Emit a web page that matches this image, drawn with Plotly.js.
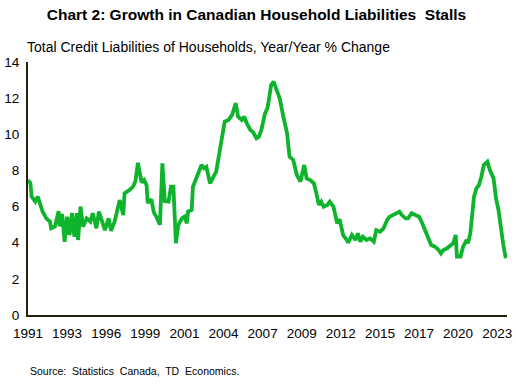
<!DOCTYPE html>
<html>
<head>
<meta charset="utf-8">
<script src="https://cdn.plot.ly/plotly-3.0.1.min.js"></script>
<style>html,body{margin:0;padding:0;background:#fff;}#chart{width:516px;height:386px;}</style>
</head>
<body>
<div id="chart"></div>
<script>
const dates = [
"1991-01","1991-03","1991-04","1991-07","1991-09","1991-11","1992-01","1992-04","1992-07","1992-08","1992-11",
"1993-02","1993-03","1993-05","1993-07","1993-09","1993-11","1994-01","1994-03","1994-05","1994-06","1994-08","1994-10",
"1995-01","1995-04","1995-06","1995-09","1995-11","1996-01","1996-04","1996-07","1996-09","1996-12",
"1997-04","1997-07","1997-08","1997-12","1998-03","1998-05","1998-07","1998-10","1998-12",
"1999-02","1999-03","1999-06","1999-08","1999-10","2000-01","2000-03","2000-05","2000-08","2000-10","2000-12",
"2001-02","2001-04","2001-07","2001-09","2001-11","2001-12","2002-03","2002-04","2002-07","2002-08","2002-11",
"2003-01","2003-03","2003-06","2003-09","2003-11","2004-02","2004-04","2004-06","2004-09","2004-12",
"2005-03","2005-05","2005-08","2005-10","2005-12","2006-03","2006-05","2006-08","2006-10","2006-12",
"2007-03","2007-05","2007-07","2007-08","2007-10","2008-01","2008-03","2008-06","2008-09","2008-11",
"2009-02","2009-05","2009-08","2009-11","2010-01","2010-04","2010-07","2010-09","2010-11",
"2011-01","2011-03","2011-06","2011-08","2011-11","2012-02","2012-04","2012-07","2012-10","2012-11",
"2013-02","2013-05","2013-07","2013-09","2013-11","2014-02","2014-05","2014-08","2014-10",
"2015-01","2015-04","2015-07","2015-09","2015-12","2016-03","2016-05","2016-07","2016-10","2016-12",
"2017-03","2017-06","2017-09","2017-11","2018-02","2018-05","2018-07","2018-10",
"2019-01","2019-03","2019-05","2019-08","2019-10","2020-01","2020-03","2020-04","2020-07","2020-09","2020-12",
"2021-01","2021-03","2021-06","2021-08","2021-10","2021-12","2022-02","2022-05","2022-07","2022-10","2022-12",
"2023-02","2023-04","2023-06","2023-08"
];
const growth = [
7.45,7.3,6.55,6.27,6.55,6.09,5.72,5.35,5.17,4.8,4.89,
5.75,4.9,5.6,4.05,5.44,4.43,5.64,4.33,5.64,4.15,6.0,4.89,
5.35,5.17,5.63,4.8,5.72,5.26,4.7,5.35,4.65,5.2,
6.36,5.53,6.73,6.92,7.1,7.42,8.42,7.33,7.47,
7.19,6.2,6.4,5.68,5.44,5.0,8.39,6.3,6.27,7.1,7.1,
3.97,4.98,5.35,5.44,5.07,5.72,5.81,7.1,7.56,7.84,8.3,
8.12,8.2,7.29,7.65,7.93,9.13,9.87,10.7,10.79,11.07,
11.72,10.97,10.79,10.97,10.61,10.24,10.14,9.78,9.87,10.24,
11.16,11.44,12.27,12.73,12.91,12.36,11.99,10.97,10.05,8.76,
8.58,7.75,7.38,8.3,7.56,7.47,7.29,6.73,6.09,
6.27,5.99,6.09,6.27,5.99,5.07,5.3,4.4,4.15,4.0,
4.43,4.15,4.52,4.06,4.33,4.15,4.24,4.06,4.7,
4.61,4.8,5.26,5.44,5.53,5.63,5.72,5.53,5.35,5.35,
5.63,5.53,5.44,5.17,4.7,4.15,3.87,3.78,
3.6,3.41,3.6,3.69,3.78,3.97,4.43,3.23,3.23,3.78,4.15,
3.97,4.52,6.55,7.01,7.19,7.65,8.3,8.48,8.02,7.56,6.46,
5.81,4.7,3.87,3.14
];
const tickDates = ["1991-01-01","1993-09-01","1996-05-01","1999-01-01","2001-09-01","2004-05-01","2007-01-01","2009-09-01","2012-05-01","2015-01-01","2017-09-01","2020-05-01","2023-01-01"];
const tickLabels = ["1991","1993","1996","1999","2001","2004","2007","2009","2012","2015","2017","2020","2023"];
const yTicks = [0,2,4,6,8,10,12,14];

const font = "Liberation Sans, Arial, sans-serif";
const trace = {
  x: dates, y: growth, type: 'scatter', mode: 'lines',
  line: {color: '#0db42c', width: 3.8},
  hoverinfo: 'skip'
};
const layout = {
  width: 516, height: 386,
  margin: {l: 28, r: 9, t: 62, b: 71},
  paper_bgcolor: '#fff', plot_bgcolor: '#fff',
  showlegend: false,
  font: {family: font, size: 13, color: '#000'},
  title: {text: '<b>Chart 2: Growth in Canadian Household Liabilities  Stalls</b>', x: 0.497, xanchor: 'center', y: 0.962, yanchor: 'middle', font: {family: font, size: 15.5, color: '#000'}},
  xaxis: {
    type: 'date', range: ['1991-01-01', '2023-09-01'],
    tickvals: tickDates, ticktext: tickLabels,
    showgrid: false, zeroline: false, showline: true, linecolor: '#22220f', linewidth: 2,
    ticks: '', ticklabelstandoff: 5, tickfont: {family: font, size: 13.5, color: '#000'}
  },
  yaxis: {
    range: [0, 14], tickvals: yTicks,
    showgrid: false, zeroline: false, showline: true, linecolor: '#22220f', linewidth: 2,
    ticks: '', ticklabelstandoff: 4, tickfont: {family: font, size: 13.5, color: '#000'}
  },
  annotations: [
    {text: 'Total Credit Liabilities of Households, Year/Year % Change', xref: 'paper', yref: 'paper', x: -0.006, y: 1.06, xanchor: 'left', yanchor: 'middle', showarrow: false, font: {family: font, size: 14, color: '#000'}},
    {text: 'Source:  Statistics  Canada,  TD  Economics.', xref: 'paper', yref: 'paper', x: 0.0, y: -0.22, xanchor: 'left', yanchor: 'middle', showarrow: false, font: {family: font, size: 10.5, color: '#000'}}
  ]
};
Plotly.newPlot('chart', [trace], layout, {displayModeBar: false, staticPlot: true});
</script>
</body>
</html>
